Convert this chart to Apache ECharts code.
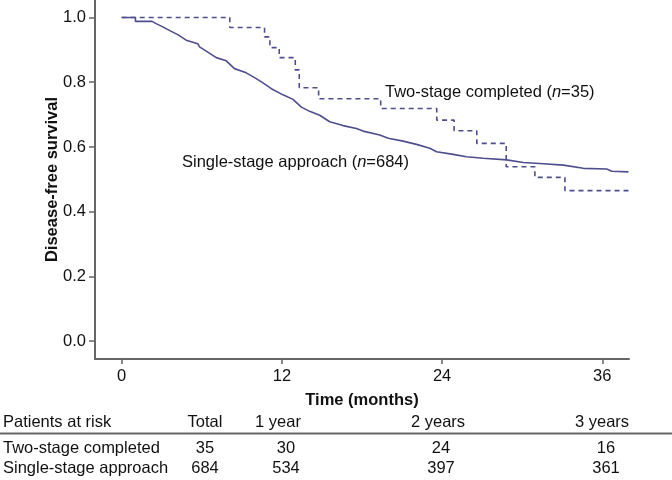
<!DOCTYPE html>
<html>
<head>
<meta charset="utf-8">
<script src="https://cdn.jsdelivr.net/npm/echarts@6/dist/echarts.min.js"></script>
<style>
html,body{margin:0;padding:0;background:#fff;}
#c{width:672px;height:480px;}
</style>
</head>
<body>
<div id="c"></div>
<script>
// Two-stage completed (n=35): [month, survival] at each step
const twoStageTimes = [0, 8.1, 10.7, 11.1, 11.8, 13.0, 13.3, 14.75, 19.4, 23.6, 24.9, 26.6, 28.8, 30.95, 33.2, 38];
const twoStageSurv  = [1.0, 0.969, 0.940, 0.907, 0.876, 0.838, 0.783, 0.749, 0.719, 0.683, 0.650, 0.611, 0.539, 0.506, 0.465, 0.465];

// Single-stage approach (n=684)
const singleTimes = [0, 1.03, 1.03, 2.28, 2.58, 3.08, 3.71, 4.20, 4.83, 5.70, 5.83, 6.45, 7.08, 7.83, 8.45, 9.33, 10.08, 10.58, 11.21, 12.08, 12.83, 13.46, 14.08, 14.83, 15.58, 16.58, 17.58, 18.08, 19.33, 19.96, 21.08, 22.08, 23.08, 23.58, 24.83, 25.83, 27.08, 28.83, 30.08, 31.58, 33.08, 34.58, 36.33, 36.71, 37.96];
const singleSurv  = [1.0, 1.0, 0.988, 0.988, 0.981, 0.971, 0.957, 0.947, 0.930, 0.919, 0.909, 0.893, 0.876, 0.866, 0.842, 0.829, 0.811, 0.798, 0.780, 0.761, 0.747, 0.723, 0.710, 0.698, 0.678, 0.666, 0.657, 0.649, 0.637, 0.627, 0.618, 0.608, 0.596, 0.585, 0.577, 0.570, 0.565, 0.560, 0.552, 0.548, 0.544, 0.534, 0.532, 0.525, 0.523];

const xTicks = [0, 12, 24, 36];
const yTicks = [0, 0.2, 0.4, 0.6, 0.8, 1.0];

// Patients at risk table
const tableTitle = 'Patients at risk';
const tableHeaders = ['Total', '1 year', '2 years', '3 years'];
const rowLabels = ['Two-stage completed', 'Single-stage approach'];
const atRiskTwoStage = [35, 30, 24, 16];
const atRiskSingle = [684, 534, 397, 361];

const FONT = '"Liberation Sans", Arial, Helvetica, sans-serif';
const LINE = '#4e4e8e';
const AXIS = '#666666';
const TXT = '#111111';
const FS = 16.5;

const chart = echarts.init(document.getElementById('c'));

const zip = (a, b) => a.map((v, i) => [v, b[i]]);

const headerX = [205, 278, 438, 602];
const valueX  = [205, 286, 441, 606];
const graphics = [];

function richText(x, y, pre, italic, post) {
  return {
    type: 'text', x: x, y: y,
    style: {
      text: '{a|' + pre + '}{b|' + italic + '}{a|' + post + '}',
      rich: {
        a: { fontSize: FS, fontFamily: FONT, fill: TXT },
        b: { fontSize: FS, fontFamily: FONT, fontStyle: 'italic', fill: TXT }
      },
      verticalAlign: 'middle'
    }
  };
}
graphics.push(richText(385, 92, 'Two-stage completed (', 'n', '=35)'));
graphics.push(richText(182, 162, 'Single-stage approach (', 'n', '=684)'));

// table
const tStyle = (txt, x, y, align) => ({
  type: 'text', x: x, y: y,
  style: { text: txt, font: FS + 'px ' + FONT, fill: TXT, textAlign: align, textVerticalAlign: 'middle' }
});
graphics.push(tStyle(tableTitle, 3, 422, 'left'));
tableHeaders.forEach((h, i) => graphics.push(tStyle(h, headerX[i], 422, 'center')));
graphics.push({ type: 'line', shape: { x1: 0, y1: 433.5, x2: 672, y2: 433.5 }, style: { stroke: AXIS, lineWidth: 2 } });
graphics.push(tStyle(rowLabels[0], 3, 448, 'left'));
graphics.push(tStyle(rowLabels[1], 3, 468, 'left'));
atRiskTwoStage.forEach((v, i) => graphics.push(tStyle(String(v), valueX[i], 448, 'center')));
atRiskSingle.forEach((v, i) => graphics.push(tStyle(String(v), valueX[i], 468, 'center')));

chart.setOption({
  animation: false,
  backgroundColor: '#fff',
  grid: { left: 95, right: 43, top: 0, bottom: 121 },
  xAxis: {
    type: 'value', min: -2, max: 38,
    name: 'Time (months)', nameLocation: 'middle', nameGap: 33, nameMoveOverlap: false,
    nameTextStyle: { fontFamily: FONT, fontSize: FS, fontWeight: 'bold', color: TXT },
    axisLine: { show: true, onZero: false, lineStyle: { color: AXIS, width: 2 } },
    axisTick: { show: true, customValues: xTicks, length: 5, lineStyle: { color: AXIS, width: 1.5 } },
    axisLabel: { customValues: xTicks, margin: 9, fontFamily: FONT, fontSize: FS, color: TXT },
    splitLine: { show: false }
  },
  yAxis: {
    type: 'value', min: -0.055, max: 1.054,
    name: 'Disease-free survival', nameLocation: 'middle', nameGap: 34, nameMoveOverlap: false,
    nameTextStyle: { fontFamily: FONT, fontSize: FS, fontWeight: 'bold', color: TXT },
    axisLine: { show: true, onZero: false, lineStyle: { color: AXIS, width: 2 } },
    axisTick: { show: true, customValues: yTicks, length: 6, lineStyle: { color: AXIS, width: 1.5 } },
    axisLabel: { customValues: yTicks, margin: 9, fontFamily: FONT, fontSize: FS, color: TXT,
      formatter: v => v.toFixed(1) },
    splitLine: { show: false }
  },
  series: [
    {
      type: 'line', name: 'Two-stage completed', step: 'end', showSymbol: false,
      data: zip(twoStageTimes, twoStageSurv),
      lineStyle: { color: LINE, width: 1.6, type: [5, 4] }
    },
    {
      type: 'line', name: 'Single-stage approach', showSymbol: false,
      data: zip(singleTimes, singleSurv),
      lineStyle: { color: LINE, width: 1.6 }
    }
  ],
  graphic: graphics
});
</script>
</body>
</html>
